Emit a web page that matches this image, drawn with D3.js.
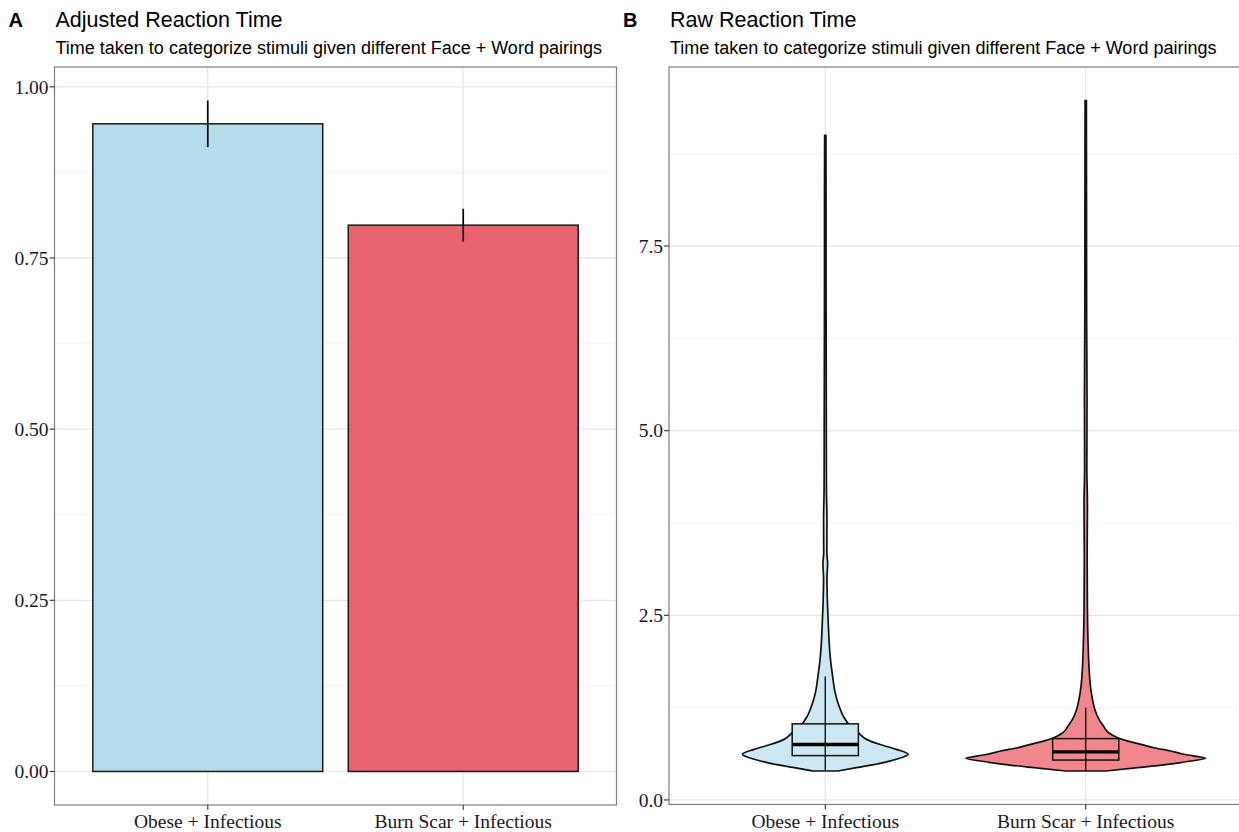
<!DOCTYPE html>
<html>
<head>
<meta charset="utf-8">
<script src="https://cdn.jsdelivr.net/npm/d3@7"></script>
<style>
  body { margin: 0; background: #fff; }
  svg text { font-family: "Liberation Sans", Arial, sans-serif; fill: #000; }
  svg text.tick-label { font-family: "Liberation Serif", "Times New Roman", serif; font-size: 19.5px; fill: #1a1a1a; }
</style>
</head>
<body>
<div id="chart"></div>
<script>
const groups = ['Obese + Infectious', 'Burn Scar + Infectious'];

// panel A: mean adjusted RT with error bars
const adjMean = [0.946, 0.798];
const adjLow = [0.912, 0.774];
const adjHigh = [0.980, 0.822];
const adjTicks = [0, 0.25, 0.5, 0.75, 1.0];
const adjMinor = [0.125, 0.375, 0.625, 0.875];

// panel B: violin outlines, RT (s) and half width in category units
const obeseRt = [0.392, 0.437, 0.505, 0.55, 0.618, 0.685, 0.753, 0.82, 0.91, 1.0, 1.135, 1.27, 1.45, 1.68, 1.9, 2.13, 2.35, 2.71, 3.0, 3.2, 3.35, 3.8, 4.2, 5.0, 6.0, 7.0, 8.0, 9.0];
const obeseHalf = [0.049, 0.119, 0.223, 0.273, 0.318, 0.273, 0.208, 0.158, 0.127, 0.096, 0.069, 0.053, 0.038, 0.028, 0.020, 0.015, 0.012, 0.008, 0.0065, 0.009, 0.006, 0.0065, 0.0045, 0.004, 0.0035, 0.003, 0.003, 0.0025];
const burnRt = [0.392, 0.437, 0.482, 0.527, 0.563, 0.618, 0.662, 0.707, 0.753, 0.797, 0.843, 0.91, 1.0, 1.09, 1.225, 1.36, 1.54, 1.77, 2.13, 2.58, 3.25, 4.0, 4.5, 5.4, 6.5, 8.0, 9.47];
const burnHalf = [0.077, 0.200, 0.315, 0.404, 0.460, 0.377, 0.327, 0.262, 0.212, 0.162, 0.123, 0.088, 0.068, 0.051, 0.035, 0.026, 0.018, 0.013, 0.009, 0.0065, 0.0055, 0.0065, 0.0042, 0.005, 0.0035, 0.003, 0.0025];

// box plot stats per group
const boxLow = [0.392, 0.392];
const boxQ1 = [0.60, 0.54];
const boxMed = [0.75, 0.65];
const boxQ3 = [1.03, 0.83];
const boxHigh = [1.67, 1.25];
const rawTicks = [0, 2.5, 5, 7.5];
const rawMinor = [1.25, 3.75, 6.25, 8.75];

const barFill = ['#b4dcea', '#e8636f'];
const violinFill = ['#cde8f2', '#f0878f'];

const W = 1239, H = 832;
const svg = d3.select('#chart').append('svg')
  .attr('width', W).attr('height', H);

// expand like ggplot (5% each side)
function expand(lo, hi) {
  const pad = (hi - lo) * 0.05;
  return [lo - pad, hi + pad];
}

function drawFrame(g, box, x, y, ticks, minor) {
  g.selectAll('.minor').data(minor).join('line')
    .attr('x1', box.left).attr('x2', box.right)
    .attr('y1', d => y(d)).attr('y2', d => y(d))
    .attr('stroke', '#f2f2f2').attr('stroke-width', 0.9);
  g.selectAll('.major').data(ticks).join('line')
    .attr('x1', box.left).attr('x2', box.right)
    .attr('y1', d => y(d)).attr('y2', d => y(d))
    .attr('stroke', '#e8e8e8').attr('stroke-width', 1.3);
  g.selectAll('.vgrid').data(groups).join('line')
    .attr('x1', (d, i) => x(i + 1)).attr('x2', (d, i) => x(i + 1))
    .attr('y1', box.top).attr('y2', box.bottom)
    .attr('stroke', '#e8e8e8').attr('stroke-width', 1.3);
}

function drawAxes(g, box, x, y, ticks, fmt) {
  g.append('rect')
    .attr('x', box.left).attr('y', box.top)
    .attr('width', box.right - box.left).attr('height', box.bottom - box.top)
    .attr('fill', 'none').attr('stroke', '#7f7f7f').attr('stroke-width', 1.2);

  g.selectAll('.ytick').data(ticks).join('line')
    .attr('x1', box.left - 5).attr('x2', box.left)
    .attr('y1', d => y(d)).attr('y2', d => y(d))
    .attr('stroke', '#333').attr('stroke-width', 1.1);
  g.selectAll('.ylab').data(ticks).join('text')
    .attr('class', 'tick-label')
    .attr('x', box.left - 6).attr('y', d => y(d))
    .attr('dy', '0.35em').attr('text-anchor', 'end')
    .text(fmt);

  g.selectAll('.xtick').data(groups).join('line')
    .attr('x1', (d, i) => x(i + 1)).attr('x2', (d, i) => x(i + 1))
    .attr('y1', box.bottom).attr('y2', box.bottom + 5)
    .attr('stroke', '#333').attr('stroke-width', 1.1);
  g.selectAll('.xlab').data(groups).join('text')
    .attr('class', 'tick-label')
    .attr('x', (d, i) => x(i + 1)).attr('y', box.bottom + 23)
    .attr('text-anchor', 'middle')
    .text(d => d);
}

function drawTitle(g, box, tag, title) {
  g.append('text').attr('x', box.left - 46).attr('y', 27)
    .attr('font-size', 20).attr('font-weight', 'bold').text(tag);
  g.append('text').attr('x', box.left + 1).attr('y', 27)
    .attr('font-size', 21.5).text(title);
  g.append('text').attr('x', box.left + 1).attr('y', 54)
    .attr('font-size', 18)
    .text('Time taken to categorize stimuli given different Face + Word pairings');
}

// ---- Panel A: bars ----
const boxA = { left: 54.5, right: 616.5, top: 67, bottom: 805 };
const xA = d3.scaleLinear().domain([0.4, 2.6]).range([boxA.left, boxA.right]);
const yA = d3.scaleLinear().domain(expand(0, d3.max(adjHigh))).range([boxA.bottom, boxA.top]);
const gA = svg.append('g');

drawFrame(gA, boxA, xA, yA, adjTicks, adjMinor);

gA.selectAll('.bar').data(adjMean).join('rect')
  .attr('x', (d, i) => xA(i + 1 - 0.45))
  .attr('width', xA(1.45) - xA(0.55))
  .attr('y', d => yA(d))
  .attr('height', d => yA(0) - yA(d))
  .attr('fill', (d, i) => barFill[i])
  .attr('stroke', '#1a1a1a').attr('stroke-width', 1.5);

gA.selectAll('.err').data(adjMean).join('line')
  .attr('x1', (d, i) => xA(i + 1)).attr('x2', (d, i) => xA(i + 1))
  .attr('y1', (d, i) => yA(adjLow[i])).attr('y2', (d, i) => yA(adjHigh[i]))
  .attr('stroke', '#000').attr('stroke-width', 1.7);

drawAxes(gA, boxA, xA, yA, adjTicks, d3.format('.2f'));
drawTitle(gA, boxA, 'A', 'Adjusted Reaction Time');

// ---- Panel B: violins + boxplots ----
const boxB = { left: 669, right: 1242, top: 67, bottom: 804.5 };
const xB = d3.scaleLinear().domain([0.4, 2.6]).range([boxB.left, boxB.right]);
const allRt = obeseRt.concat(burnRt);
const yB = d3.scaleLinear().domain(expand(d3.min(allRt), d3.max(allRt))).range([boxB.bottom, boxB.top]);
const gB = svg.append('g');

drawFrame(gB, boxB, xB, yB, rawTicks, rawMinor);

const violins = [
  d3.zip(obeseRt, obeseHalf).reverse(),
  d3.zip(burnRt, burnHalf).reverse()
];

violins.forEach((pts, i) => {
  const c = i + 1;
  const area = d3.area()
    .curve(d3.curveMonotoneY)
    .y(d => yB(d[0]))
    .x0(d => xB(c - d[1]))
    .x1(d => xB(c + d[1]));
  gB.append('path')
    .attr('d', area(pts))
    .attr('fill', violinFill[i])
    .attr('stroke', '#111').attr('stroke-width', 1.7)
    .attr('stroke-linejoin', 'round');
});

const boxHalf = 0.127;
gB.selectAll('.whisk').data(groups).join('line')
  .attr('x1', (d, i) => xB(i + 1)).attr('x2', (d, i) => xB(i + 1))
  .attr('y1', (d, i) => yB(boxLow[i])).attr('y2', (d, i) => yB(boxHigh[i]))
  .attr('stroke', '#111').attr('stroke-width', 1.4);
gB.selectAll('.iqr').data(groups).join('rect')
  .attr('x', (d, i) => xB(i + 1 - boxHalf))
  .attr('width', xB(1 + boxHalf) - xB(1 - boxHalf))
  .attr('y', (d, i) => yB(boxQ3[i]))
  .attr('height', (d, i) => yB(boxQ1[i]) - yB(boxQ3[i]))
  .attr('fill', (d, i) => violinFill[i])
  .attr('stroke', '#111').attr('stroke-width', 1.5);
gB.selectAll('.whiskIn').data(groups).join('line')
  .attr('x1', (d, i) => xB(i + 1)).attr('x2', (d, i) => xB(i + 1))
  .attr('y1', (d, i) => yB(boxQ1[i])).attr('y2', (d, i) => yB(boxQ3[i]))
  .attr('stroke', '#111').attr('stroke-width', 1.4);
gB.selectAll('.med').data(boxMed).join('line')
  .attr('x1', (d, i) => xB(i + 1 - boxHalf)).attr('x2', (d, i) => xB(i + 1 + boxHalf))
  .attr('y1', d => yB(d)).attr('y2', d => yB(d))
  .attr('stroke', '#000').attr('stroke-width', 3.4);

drawAxes(gB, boxB, xB, yB, rawTicks, d3.format('.1f'));
drawTitle(gB, boxB, 'B', 'Raw Reaction Time');
</script>
</body>
</html>
